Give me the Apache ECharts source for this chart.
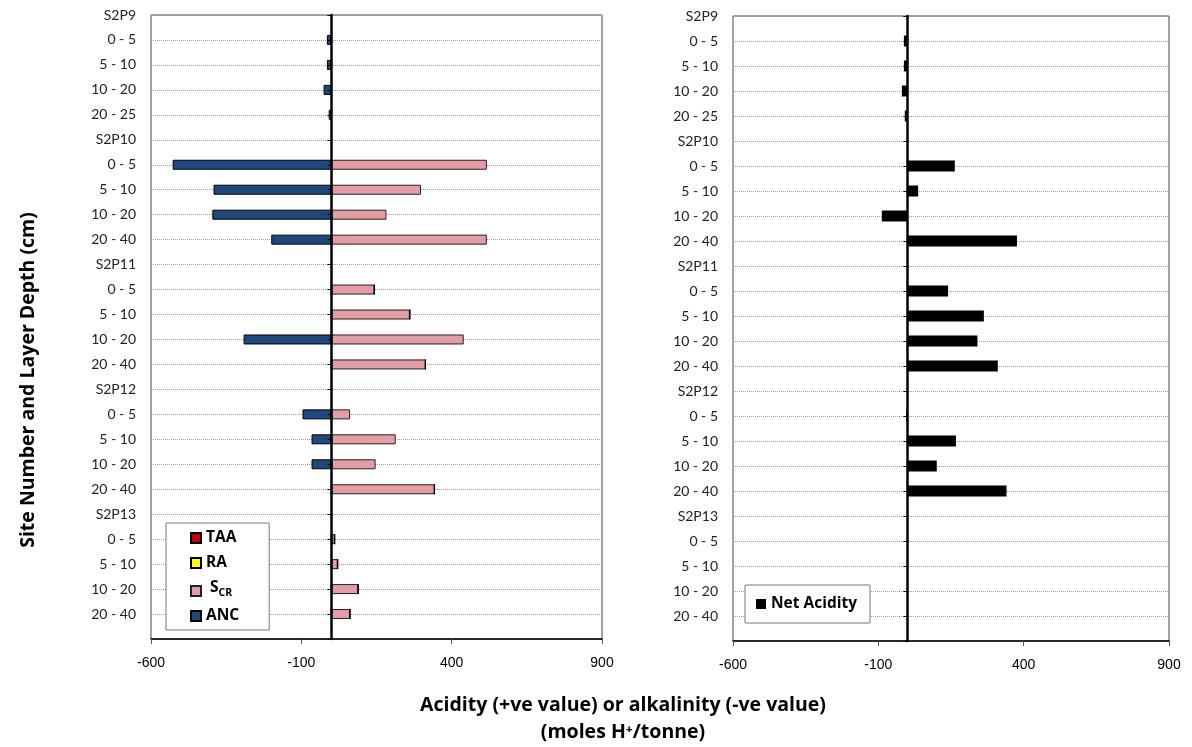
<!DOCTYPE html>
<html>
<head>
<meta charset="utf-8" />
<title>Acidity / alkalinity by site and layer</title>
<style>
  html, body { margin: 0; padding: 0; background: #fff; }
  #chartmain { width: 1192px; height: 747px; }
</style>
</head>
<body>
<div id="chartmain"></div>
<script src="https://cdn.jsdelivr.net/npm/echarts@6/dist/echarts.min.js"></script>
<script>
// rows from top to bottom, the last empty one is the gap under the final layer
var layers = ['S2P9', '0 - 5', '5 - 10', '10 - 20', '20 - 25',
              'S2P10', '0 - 5', '5 - 10', '10 - 20', '20 - 40',
              'S2P11', '0 - 5', '5 - 10', '10 - 20', '20 - 40',
              'S2P12', '0 - 5', '5 - 10', '10 - 20', '20 - 40',
              'S2P13', '0 - 5', '5 - 10', '10 - 20', '20 - 40',
              ''];
var xTicks = [-600, -100, 400, 900];

var taa = [null, 0, 0, 0, 0, null, 0, 0, 0, 0, null, 0, 0, 0, 0, null, 0, 0, 0, 0, null, 0, 0, 0, 0, null];
var ra  = [null, 0, 0, 0, 0, null, 0, 0, 0, 0, null, 0, 0, 0, 0, null, 0, 0, 0, 0, null, 0, 0, 0, 0, null];
var scr = [null, 0, 0, 0, 0, null, 517, 298, 183, 517, null, 143, 261, 440, 313, null, 62, 214, 147, 343, null, 11, 21, 89, 62, null];
var anc = [null, -15, -15, -26, -9, null, -528, -392, -396, -200, null, 0, 0, -292, 0, null, -96, -66, -66, 0, null, 0, 0, 0, 0, null];
var netAcidity = [null, -12, -12, -19, -9, null, 163, 37, -88, 377, null, 140, 263, 241, 311, null, -4, 167, 101, 341, null, null, null, null, null, null];

var catFont = 'Lato, "Open Sans", sans-serif';
var boldFont = '"Open Sans", Lato, sans-serif';

function valueAxis(g) {
  return {
    type: 'value', gridIndex: g,
    min: xTicks[0], max: xTicks[xTicks.length - 1], interval: xTicks[1] - xTicks[0],
    axisLine: { show: true, lineStyle: { color: '#000', width: 1.5 } },
    axisTick: { show: true, length: 5, lineStyle: { color: '#555' } },
    axisLabel: { margin: 17, fontSize: 14, color: '#000', fontFamily: '"Liberation Sans", Arial, sans-serif' },
    splitLine: { show: false }
  };
}
// labels + dotted grid lines at the left edge
function labelAxis(g) {
  return {
    type: 'category', gridIndex: g, data: layers, inverse: true, boundaryGap: false,
    position: 'left',
    axisLine: { show: false, onZero: false },
    axisTick: { show: false },
    axisLabel: { margin: 15, fontSize: 14, color: '#222', fontFamily: catFont },
    splitLine: { show: true, lineStyle: { color: '#9a9a9a', type: 'dotted', width: 1 } },
    z: 0
  };
}
// the thick line at zero with its little ticks
function zeroAxis(g) {
  return {
    type: 'category', gridIndex: g, data: layers, inverse: true, boundaryGap: false,
    position: 'left',
    axisLine: { show: true, onZero: true, lineStyle: { color: '#000', width: 2.5 } },
    axisTick: { show: true, length: 4, lineStyle: { color: '#000', width: 1 } },
    axisLabel: { show: false },
    splitLine: { show: false },
    z: 5
  };
}

var legendText = {
  fontSize: 15.5, fontWeight: 'bold', color: '#000', fontFamily: boldFont,
  rich: {
    m: { fontSize: 15.5, fontWeight: 'bold', fontFamily: boldFont, color: '#000', verticalAlign: 'bottom', lineHeight: 13, padding: [0, 0, 3, 0] },
    s: { fontSize: 10.5, fontWeight: 'bold', fontFamily: boldFont, color: '#000', verticalAlign: 'bottom', lineHeight: 9 }
  }
};

var option = {
  animation: false,
  grid: [
    { left: 151, right: 590, top: 15, bottom: 108, show: true, borderColor: '#444', borderWidth: 1 },
    { left: 733, right: 23, top: 16, bottom: 106, show: true, borderColor: '#444', borderWidth: 1 }
  ],
  xAxis: [valueAxis(0), valueAxis(1)],
  yAxis: [zeroAxis(0), labelAxis(0), zeroAxis(1), labelAxis(1)],
  legend: [
    {
      data: ['TAA', 'RA', 'S_CR', 'ANC'],
      orient: 'vertical', left: 166, top: 523, icon: 'rect',
      itemWidth: 10, itemHeight: 10, itemGap: 9,
      padding: [7, 30, 6, 24],
      borderColor: '#777', borderWidth: 1, backgroundColor: '#fff',
      textStyle: legendText,
      formatter: function (name) {
        return name === 'S_CR' ? ' {m|S}{s|CR}' : name;
      }
    },
    {
      data: ['Net Acidity'],
      left: 745, top: 585, icon: 'rect',
      itemWidth: 10, itemHeight: 10,
      padding: [11, 13, 11, 11],
      borderColor: '#777', borderWidth: 1, backgroundColor: '#fff',
      textStyle: { fontSize: 15.5, fontWeight: 'bold', color: '#000', fontFamily: boldFont }
    }
  ],
  graphic: [
    {
      type: 'text', x: 28, y: 380, rotation: Math.PI / 2,
      style: { text: 'Site Number and Layer Depth (cm)', fontSize: 19.5, fontWeight: 'bold', fontFamily: boldFont,
               fill: '#000', align: 'center', verticalAlign: 'middle' }
    },
    {
      type: 'text', x: 623, y: 705,
      style: { text: 'Acidity (+ve value) or alkalinity (-ve value)', fontSize: 19.5, fontWeight: 'bold', fontFamily: boldFont,
               fill: '#000', align: 'center', verticalAlign: 'middle' }
    },
    {
      type: 'text', x: 623, y: 732,
      style: { text: '(moles H\u207A/tonne)', fontSize: 19.5, fontWeight: 'bold', fontFamily: boldFont,
               fill: '#000', align: 'center', verticalAlign: 'middle' }
    }
  ],
  series: [
    { name: 'TAA', type: 'bar', stack: 'a', xAxisIndex: 0, yAxisIndex: 0, barWidth: 10, data: taa,
      itemStyle: { color: '#C00000', borderColor: '#000', borderWidth: 1 } },
    { name: 'RA', type: 'bar', stack: 'a', xAxisIndex: 0, yAxisIndex: 0, barWidth: 10, data: ra,
      itemStyle: { color: '#FFFF00', borderColor: '#000', borderWidth: 1 } },
    { name: 'S_CR', type: 'bar', stack: 'a', xAxisIndex: 0, yAxisIndex: 0, barWidth: 10, data: scr,
      itemStyle: { color: '#E29DA5', borderColor: '#222', borderWidth: 1 } },
    { name: 'ANC', type: 'bar', stack: 'a', xAxisIndex: 0, yAxisIndex: 0, barWidth: 10, data: anc,
      itemStyle: { color: '#1F497D', borderColor: '#000', borderWidth: 1 } },
    { name: 'Net Acidity', type: 'bar', xAxisIndex: 1, yAxisIndex: 2, barWidth: 11, data: netAcidity,
      itemStyle: { color: '#000' } }
  ]
};

var myChart = echarts.init(document.getElementById('chartmain'));
myChart.setOption(option);
</script>
</body>
</html>
